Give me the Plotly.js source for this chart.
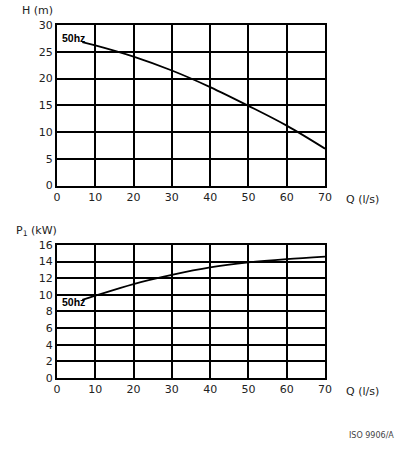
<!DOCTYPE html>
<html><head><meta charset="utf-8">
<script src="https://cdn.plot.ly/plotly-3.0.1.min.js"></script>
<style>body{margin:0;background:#fff}#c{width:397px;height:450px}</style>
</head><body><div id="c"></div>
<script>
const qHead = [6.6, 10, 20, 30, 40, 50, 60, 70];
const head = [26.8, 26.2, 24.1, 21.5, 18.4, 14.9, 11.2, 6.9];
const qPower = [6.6, 10, 20, 30, 40, 50, 60, 70];
const power = [9.4, 9.9, 11.3, 12.4, 13.3, 13.9, 14.3, 14.6];
const xTicks = [0, 10, 20, 30, 40, 50, 60, 70];
const headTicks = [0, 5, 10, 15, 20, 25, 30];
const powerTicks = [0, 2, 4, 6, 8, 10, 12, 14, 16];
const curveLabel = "50hz";

const tickFont = {family: "DejaVu Sans", size: 11, color: "#222"};
const axBase = {
  showline: true, mirror: true, linecolor: "#000", linewidth: 2,
  showgrid: true, gridcolor: "#000", gridwidth: 2,
  zeroline: false, ticks: "", tickfont: tickFont, fixedrange: true
};
const traces = [
  {x: qHead, y: head, xaxis: "x", yaxis: "y", mode: "lines", line: {color: "#000", width: 1.8, shape: "spline"}, hoverinfo: "skip"},
  {x: qPower, y: power, xaxis: "x2", yaxis: "y2", mode: "lines", line: {color: "#000", width: 1.8, shape: "spline"}, hoverinfo: "skip"}
];
const labFont = {family: "DejaVu Sans", size: 11, color: "#222"};
const curveFont = {family: "Liberation Sans", size: 10.5, color: "#000"};
const layout = {
  width: 397, height: 450,
  margin: {l: 57, r: 72, t: 25, b: 72},
  paper_bgcolor: "#fff", plot_bgcolor: "#fff",
  showlegend: false,
  xaxis: Object.assign({}, axBase, {domain: [0, 1], range: [0, 70], tickvals: xTicks, anchor: "y"}),
  yaxis: Object.assign({}, axBase, {domain: [0.545, 1], range: [0, 30], tickvals: headTicks, anchor: "x"}),
  xaxis2: Object.assign({}, axBase, {domain: [0, 1], range: [0, 70], tickvals: xTicks, anchor: "y2"}),
  yaxis2: Object.assign({}, axBase, {domain: [0, 0.377], range: [0, 16], tickvals: powerTicks, anchor: "x2"}),
  annotations: [
    {xref: "x", yref: "y", x: 0.7, y: 27.6, text: "<b>" + curveLabel + "</b>", showarrow: false, xanchor: "left", yanchor: "middle", font: curveFont},
    {xref: "x2", yref: "y2", x: 0.7, y: 9.15, text: "<b>" + curveLabel + "</b>", showarrow: false, xanchor: "left", yanchor: "middle", font: curveFont},
    {xref: "paper", yref: "paper", x: -0.138, y: 1.042, text: "H (m)", showarrow: false, xanchor: "left", yanchor: "middle", font: labFont},
    {xref: "paper", yref: "paper", x: -0.16, y: 0.416, text: "P<sub>1</sub> (kW)", showarrow: false, xanchor: "left", yanchor: "middle", font: labFont},
    {xref: "paper", yref: "paper", x: 1.07, y: 0.545, text: "Q (l/s)", showarrow: false, xanchor: "left", yanchor: "top", yshift: -5, font: labFont},
    {xref: "paper", yref: "paper", x: 1.07, y: 0, text: "Q (l/s)", showarrow: false, xanchor: "left", yanchor: "top", yshift: -5, font: labFont},
    {xref: "paper", yref: "paper", x: 1.265, y: -0.162, text: "ISO 9906/A", showarrow: false, xanchor: "right", yanchor: "middle", font: {family: "DejaVu Sans", size: 8, color: "#444"}}
  ]
};
Plotly.newPlot("c", traces, layout, {staticPlot: true});
</script></body></html>
